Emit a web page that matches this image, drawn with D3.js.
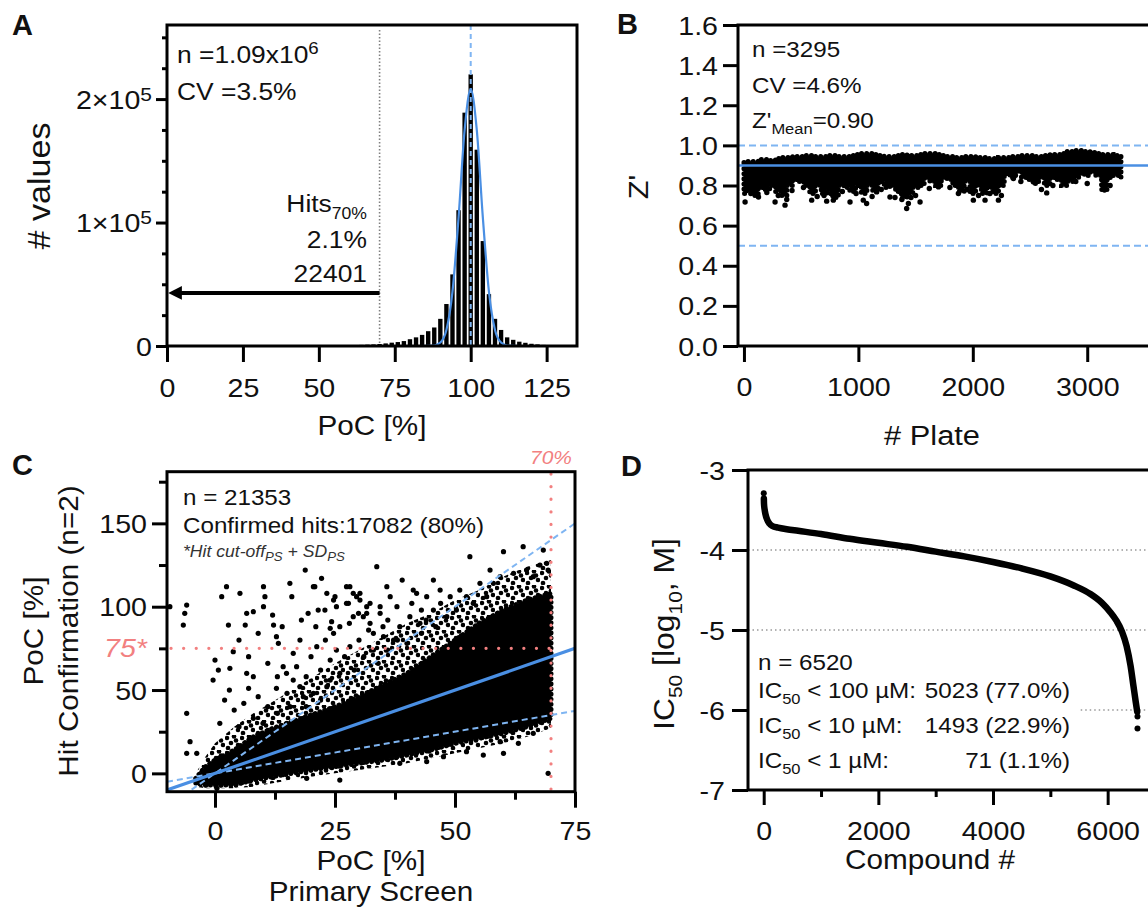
<!DOCTYPE html>
<html>
<head>
<meta charset="utf-8">
<script src="https://cdn.jsdelivr.net/npm/d3@7"></script>
<style>
body{margin:0;background:#fff}
svg text{font-family:"Liberation Sans",Arial,Helvetica,sans-serif;fill:#111}
</style>
</head>
<body>
<svg id="fig" width="1148" height="913"></svg>
<script>
// ---------- A : PoC histogram ----------
var histBin = [64,66,68,70,72,74,76,78,80,82,84,86,88,90,92,94,96,98,100,102,104,106,108,110,112,114,116,118,120,122,124,126,128];
var histCount = [900,1100,1300,1600,2100,2700,3200,4000,5500,7000,9000,12000,15000,22000,34000,58000,110000,189000,220000,159000,85000,42000,22000,13000,7000,5000,3500,2600,1800,1300,900,600,400];
var fitX = [0,84,88,90,92,94,96,98,100,102,104,106,108,110,112,116,135];
var fitY = [0,0,400,2800,13000,44000,104000,175000,208000,175000,104000,44000,13000,2800,400,0,0];
var aXTicks = [0,25,50,75,100,125];
var aYTicks = [0,100000,200000];
var aYMinor = [25000,50000,75000,125000,150000,175000,225000,250000];
var aCutoff = 70, aMean = 100, aArrowAt = 43000;

// ---------- B : Z' per plate ----------
var bX  = [0,50,100,150,200,250,300,350,400,450,500,550,600,650,700,750,800,850,900,950,1000,1050,1100,1150,1200,1250,1300,1350,1400,1450,1500,1550,1600,1650,1700,1750,1800,1850,1900,1950,2000,2050,2100,2150,2200,2250,2300,2350,2400,2450,2500,2550,2600,2650,2700,2750,2800,2850,2900,2950,3000,3050,3100,3150,3200,3250,3295];
var bHi = [.915,.92,.92,.93,.93,.925,.935,.94,.94,.945,.945,.95,.95,.945,.945,.95,.95,.945,.945,.95,.955,.96,.96,.955,.95,.945,.945,.95,.955,.95,.95,.955,.96,.96,.955,.95,.945,.94,.94,.945,.945,.94,.94,.935,.935,.94,.94,.945,.945,.95,.95,.945,.945,.95,.955,.955,.96,.97,.975,.975,.97,.965,.96,.955,.955,.95,.95];
var bLo = [.76,.78,.75,.79,.78,.80,.77,.75,.80,.83,.82,.80,.76,.80,.76,.78,.74,.80,.79,.77,.80,.76,.80,.77,.82,.79,.80,.77,.74,.76,.79,.80,.84,.82,.80,.84,.83,.80,.77,.82,.76,.80,.76,.79,.76,.80,.86,.84,.87,.84,.83,.81,.84,.80,.84,.83,.80,.82,.84,.86,.85,.87,.85,.78,.84,.85,.84];
var bOut = [[10,.718],[127,.743],[272,.718],[359,.702],[374,.73],[592,.727],[723,.722],[781,.727],[927,.718],[1043,.727],[1072,.71],[1160,.768],[1276,.743],[1320,.74],[1422,.685],[1437,.71],[1539,.718],[1700,.793],[1874,.76],[2005,.727],[2107,.727],[2224,.727],[2355,.835],[2530,.818],[2646,.763],[3151,.777],[3151,.79],
  [60,.76],[200,.765],[300,.75],[420,.775],[520,.79],[640,.745],[700,.75],[760,.76],[860,.77],[980,.76],[1120,.745],[1200,.78],[1380,.73],[1460,.74],[1500,.75],[1620,.785],[1800,.79],[1950,.78],[2050,.75],[2150,.76],[2250,.75],[2420,.82],[2600,.78],[2700,.80],[2900,.82],[3000,.81],[3200,.80]];
var bXTicks = [0,1000,2000,3000];
var bYTicks = [0,0.2,0.4,0.6,0.8,1.0,1.2,1.4,1.6];
var bRefs = [1.0, 0.5], bMean = 0.90;

// ---------- C : primary screen vs hit confirmation ----------
var cX     = [-4,-2,0,4,8,12,16,20,25,30,35,40,45,50,55,60,65,70];
var cUpper = [-3,4,8,14,22,27,31,35,40,46,53,60,70,80,90,98,104,108];
var cLower = [-6,-7,-7,-7,-4,-2,0,2,4,6,8,11,14,18,21,24,28,33];
var fUpper = [0,10,18,28,36,43,50,57,66,74,82,90,96,104,110,118,124,128];
var fLower = [-8,-9,-9,-9,-8,-6,-4,-2,0,2,4,6,9,12,15,18,22,27];
var cOut = [[-9.4,100],[-6.3,96],[-5.9,101],[-6.6,89],[-5.9,36],[-5.2,19],[-5.9,12],[-3.8,12],
  [0,68],[-0.4,56],[0.7,62],[2.4,112],[1.4,106],[2.8,89],[3.8,73],[3.1,63],
  [5.2,108],[6.6,96],[6.3,89],[8,97],[7,51],[6.6,60],[10.1,112],[10.4,106],[10.1,100],
  [12.2,89],[12.8,82],[13.2,78],[12.8,51],[14.2,64],[14.9,60],[15.6,114],[16,106],
  [18.8,122],[19.4,96],[20.5,112],[22.2,117],[21.5,98],[22.9,98],[23.3,108],[24,87],[24.3,91],
  [25,106],[25.3,100],[27.4,112],[28.1,112],[28.8,108],[29.5,106],[27.8,102],[29.9,96],[30.2,104],
  [30.9,94],[31.6,100],[32.3,102],[33,84],[33.7,124],[34.4,100],[35.8,112],[36.5,106],[37.9,100],
  [16.3,56],[17.7,52],[18.4,46],[20.5,48],[16.3,72],[17.7,80],[15.6,40],[21.2,76],[24,68],[25.3,74],
  [28.1,76],[24.7,84],[23.3,52],[35,88],[37.2,80],
  [0.4,-9],[26,-4],[44.1,7],[55.9,11],[60.1,12],[63.2,18],[69.4,0],[38.5,6],[47.6,10],[52.4,13],[59.4,19],[66.3,24],[19.1,-3],
  [53.1,130],[60.1,133],[64.2,136],[68.4,134],[67.7,125],[69.1,126],[69.4,122],[57.3,122],[59.4,118],[62.2,120],[64.9,122],[66.3,118],
  [45.5,116],[41.3,110],[42,108],[44.1,106],[46.9,110],[49,106],[51,110],[52.4,106],[53.8,102],[30.2,108],[27.4,102],[31.6,96],[34.4,96],
  [24.7,104],[28.8,94],[32.3,90],[35.1,82],[38.5,88],[40.6,94],[42.7,90],[45.5,98],[48.3,94],[50.3,98],[55.2,114],[56.6,106],[58,114],[39,116],[43,98],[47,102],[20.8,112],
  [1,30],[2,44],[3,50],[4,38],[5,28],[5,80],[6,42],[7,70],[8,33],[8,58],[9,46],[9,84],[10,30],[11,66],[11,40],[12,95],[13,36],[13,58],[14,88],[15,48],
  [16,30],[17,64],[18,92],[19,40],[19,58],[20,70],[21,88],[22,44],[22,62],[23,80],[24,56],[26,88],[26,60],[27,70],[28,90],[29,62],[30,80],[31,70],
  [32,86],[33,74],[34,66],[36,92],[36,74],[38,80],[40,78],[41,102],[43,84],[44,92],[46,88]];
var cFitSlope = 1, cBandSlopes = [2, 0.5];
var cCutX = 70, cCutY = 75;
var cXTicks = [0,25,50,75], cXMinor = [12.5,37.5,62.5];
var cYTicks = [0,50,100,150], cYMinor = [25,75,125,175];

// ---------- D : sorted IC50 ----------
var dRank = [3,5,15,30,60,100,150,250,400,600,1000,1500,2000,2500,3000,3500,4000,4500,5000,5400,5700,5900,6050,6150,6250,6330,6400,6450,6490,6515];
var dLog  = [-3.36,-3.42,-3.49,-3.55,-3.62,-3.67,-3.70,-3.72,-3.74,-3.76,-3.80,-3.86,-3.91,-3.96,-4.02,-4.08,-4.15,-4.23,-4.33,-4.44,-4.55,-4.66,-4.78,-4.88,-5.02,-5.20,-5.45,-5.70,-5.90,-6.02];
var dDots = [[1,-3.29],[6520,-6.08],[6520,-6.23]];
var dGuides = [-4,-5,-6], dGuideFrom = [-274,-274,5530];
var dXTicks = [0,2000,4000,6000], dXMinor = [1000,3000,5000];
var dYTicks = [-7,-6,-5,-4,-3];
var dRows = [["100","5023 (77.0%)"],["10","1493 (22.9%)"],["1","71 (1.1%)"]];

var BLUE = "#4a8fe3", BLUE_L = "#7fb5f2", RED = "#f28080", GRAY = "#808080";

var svg = d3.select("#fig");
var defs = svg.append("defs");

function clipRect(id, x0, y0, x1, y1) {
  defs.append("clipPath").attr("id", id).append("rect")
    .attr("x", x0).attr("y", y0).attr("width", x1 - x0).attr("height", y1 - y0);
}

function frame(g, x0, y0, x1, y1) {
  g.append("rect").attr("x", x0).attr("y", y0).attr("width", x1 - x0).attr("height", y1 - y0)
    .attr("fill", "none").attr("stroke", "#000").attr("stroke-width", 3);
}

function ticks(g, orient, scale, at, values, len, fmt, gap, size) {
  var axis = (orient === "left" ? d3.axisLeft(scale) : d3.axisBottom(scale))
    .tickValues(values).tickSize(len).tickSizeOuter(0)
    .tickFormat(fmt || function () { return ""; });
  var sel = g.append("g")
    .attr("transform", orient === "left" ? "translate(" + at + ",0)" : "translate(0," + at + ")")
    .call(axis);
  sel.select(".domain").remove();
  sel.selectAll(".tick line").attr("stroke", "#000").attr("stroke-width", 3);
  sel.selectAll(".tick text")
    .attr("x", null).attr("y", null)
    .attr("dy", orient === "left" ? "0.35em" : null)
    .attr("font-size", size || 26)
    .attr("transform", orient === "left"
      ? "translate(" + (-gap) + ",0) scale(1.1,1)"
      : "translate(0," + gap + ") scale(1.1,1)");
  return sel;
}

// text with optional sub/superscripts, slightly widened like the original
function rich(g, x, y, parts, o) {
  o = o || {};
  var fs = o.size || 22;
  var t = g.append("text")
    .attr("transform", "translate(" + x + "," + y + ")" + (o.rotate ? " rotate(" + o.rotate + ")" : "") + " scale(" + (o.sx || 1.1) + ",1)")
    .attr("font-size", fs).attr("text-anchor", o.anchor || "start");
  if (o.color) t.style("fill", o.color);
  if (o.italic) t.attr("font-style", "italic");
  if (o.bold) t.attr("font-weight", "bold");
  if (typeof parts === "string") parts = [[parts]];
  var cur = 0;
  parts.forEach(function (p) {
    var off = p[1] === "sup" ? -(o.supShift || fs * 0.35) : p[1] === "sub" ? fs * 0.28 : 0;
    var ts = t.append("tspan").attr("dy", off - cur).text(p[0]);
    if (p[1]) ts.attr("font-size", o.small || Math.round(fs * 0.68));
    cur = off;
  });
  return t;
}

function hline(g, x0, x1, y, color, w, dash, cap) {
  return g.append("line").attr("x1", x0).attr("x2", x1).attr("y1", y).attr("y2", y)
    .attr("stroke", color).attr("stroke-width", w).attr("stroke-dasharray", dash || null)
    .attr("stroke-linecap", cap || "butt");
}
function vline(g, x, y0, y1, color, w, dash, cap) {
  return g.append("line").attr("x1", x).attr("x2", x).attr("y1", y0).attr("y2", y1)
    .attr("stroke", color).attr("stroke-width", w).attr("stroke-dasharray", dash || null)
    .attr("stroke-linecap", cap || "butt");
}

defs.append("marker").attr("id", "arr").attr("viewBox", "0 0 10 10")
  .attr("refX", 2).attr("refY", 5).attr("markerWidth", 3.6).attr("markerHeight", 3.4)
  .attr("orient", "auto-start-reverse")
  .append("path").attr("d", "M0,0 L10,5 L0,10 z").attr("fill", "#000");

var speck = defs.append("pattern").attr("id", "speck").attr("patternUnits", "userSpaceOnUse")
  .attr("width", 15).attr("height", 15);
speck.selectAll("circle").data([[2,3],[9,1.5],[6,8],[13,10],[3,13],[11,5.5]]).enter().append("circle")
  .attr("cx", function (d) { return d[0]; }).attr("cy", function (d) { return d[1]; })
  .attr("r", 2.3).attr("fill", "#000");

// ================= Panel A =================
var gA = svg.append("g");
var ax = d3.scaleLinear().domain([0, 135]).range([167, 577]);
var ay = d3.scaleLinear().domain([0, 260000]).range([346, 25]);
var binW = 2;

gA.selectAll("rect.bar").data(histBin).enter().append("rect")
  .attr("x", function (d) { return ax(d - binW * 0.36); })
  .attr("width", ax(binW * 0.72) - ax(0))
  .attr("y", function (d, i) { return ay(histCount[i]); })
  .attr("height", function (d, i) { return ay(0) - ay(histCount[i]); })
  .attr("fill", "#000");

vline(gA, ax(aMean), ay(260000), ay(0), BLUE_L, 2, "5,4");
vline(gA, ax(aCutoff), 30, ay(0), GRAY, 1.6, "1.5,2");

gA.append("path")
  .datum(fitX.map(function (x, i) { return [x, fitY[i]]; }))
  .attr("d", d3.line().x(function (d) { return ax(d[0]); }).y(function (d) { return ay(d[1]); }).curve(d3.curveMonotoneX))
  .attr("fill", "none").attr("stroke", BLUE).attr("stroke-width", 2.2);

gA.append("line").attr("x1", ax(aCutoff)).attr("x2", ax(4)).attr("y1", ay(aArrowAt)).attr("y2", ay(aArrowAt))
  .attr("stroke", "#000").attr("stroke-width", 4).attr("marker-end", "url(#arr)");

frame(gA, 167, 25, 577, 346);
ticks(gA, "bottom", ax, 346, aXTicks, 16, function (d) { return d; }, 51);
ticks(gA, "left", ay, 167, aYMinor, 5);
var aYAx = ticks(gA, "left", ay, 167, aYTicks, 11, function (d) { return d === 0 ? "0" : (d / 100000) + "×10"; }, 15);
aYAx.selectAll(".tick text").filter(function (d) { return d > 0; })
  .append("tspan").attr("dy", -8).attr("font-size", 19).text("5");

rich(gA, 177, 63, [["n =1.09x10"], ["6", "sup"]], { size: 24, small: 17, supShift: 9 });
rich(gA, 177, 100, "CV =3.5%", { size: 24 });
rich(gA, 367, 212, [["Hits"], ["70%", "sub"]], { size: 24, small: 16, anchor: "end" });
rich(gA, 367, 248, "2.1%", { size: 24, anchor: "end" });
rich(gA, 367, 282, "22401", { size: 24, anchor: "end" });
rich(gA, 372, 435, "PoC [%]", { size: 27, anchor: "middle" });
rich(gA, 50, 186, "# values", { size: 31, anchor: "middle", rotate: -90 });
rich(gA, 12, 35, "A", { size: 29, bold: true, sx: 1 });

// ================= Panel B =================
var gB = svg.append("g");
clipRect("clipB", 738, 25, 1160, 346);
var bx = d3.scaleLinear().domain([-52, 3636]).range([738, 1160]);
var by = d3.scaleLinear().domain([0, 1.6]).range([346, 25]);
var gBd = gB.append("g").attr("clip-path", "url(#clipB)");

bRefs.forEach(function (v) { hline(gBd, 738, 1160, by(v), BLUE_L, 2, "7,4"); });

var bBand = d3.area().curve(d3.curveStep)
  .x(function (d, i) { return bx(bX[i]); })
  .y0(function (d, i) { return by(bLo[i]); })
  .y1(function (d, i) { return by(bHi[i]); });
gBd.append("path").datum(bX).attr("d", bBand)
  .attr("fill", "#000").attr("stroke", "#000").attr("stroke-width", 5)
  .attr("stroke-dasharray", "0.1,5").attr("stroke-linecap", "round");
gBd.selectAll("circle.out").data(bOut).enter().append("circle")
  .attr("cx", function (d) { return bx(d[0]); }).attr("cy", function (d) { return by(d[1]); })
  .attr("r", 2.7).attr("fill", "#000");
hline(gBd, 738, 1160, by(bMean), BLUE, 2.6);

frame(gB, 738, 25, 1160, 346);
ticks(gB, "left", by, 738, bYTicks, 15, d3.format(".1f"), 20);
ticks(gB, "bottom", bx, 346, bXTicks, 16, function (d) { return d; }, 50);

rich(gB, 752, 57, "n =3295", { size: 22 });
rich(gB, 752, 93, "CV =4.6%", { size: 22 });
rich(gB, 752, 128, [["Z'"], ["Mean", "sub"], ["=0.90"]], { size: 22, small: 15 });
rich(gB, 932, 445, "# Plate", { size: 28, anchor: "middle" });
rich(gB, 648, 187, "Z'", { size: 28, anchor: "middle", rotate: -90 });
rich(gB, 617, 34, "B", { size: 29, bold: true, sx: 1 });

// ================= Panel C =================
var gC = svg.append("g");
clipRect("clipC", 167, 471.7, 575, 791.7);
var cx = d3.scaleLinear().domain([-10, 75]).range([167, 575]);
var cy = d3.scaleLinear().domain([-11, 181]).range([791.7, 471.7]);
var gCd = gC.append("g").attr("clip-path", "url(#clipC)");

function cArea(lo, hi) {
  return d3.area().curve(d3.curveLinear)
    .x(function (d, i) { return cx(cX[i]); })
    .y0(function (d, i) { return cy(lo[i]); })
    .y1(function (d, i) { return cy(hi[i]); });
}
gCd.append("path").datum(cX).attr("d", cArea(cUpper, fUpper)).attr("fill", "url(#speck)");
gCd.append("path").datum(cX).attr("d", cArea(fLower, cLower)).attr("fill", "url(#speck)");
gCd.append("path").datum(cX).attr("d", cArea(cLower, cUpper))
  .attr("fill", "#000").attr("stroke", "#000").attr("stroke-width", 5)
  .attr("stroke-dasharray", "0.1,5").attr("stroke-linecap", "round");
gCd.selectAll("circle.out").data(cOut).enter().append("circle")
  .attr("cx", function (d) { return cx(d[0]); }).attr("cy", function (d) { return cy(d[1]); })
  .attr("r", 2.6).attr("fill", "#000");

cBandSlopes.forEach(function (s) {
  gCd.append("line").attr("x1", cx(-10)).attr("y1", cy(-10 * s)).attr("x2", cx(75)).attr("y2", cy(75 * s))
    .attr("stroke", BLUE_L).attr("stroke-width", 2).attr("stroke-dasharray", "6,4");
});
gCd.append("line").attr("x1", cx(-10)).attr("y1", cy(-10 * cFitSlope)).attr("x2", cx(75)).attr("y2", cy(75 * cFitSlope))
  .attr("stroke", BLUE).attr("stroke-width", 3.2);

vline(gC, cx(cCutX), 474, 790, RED, 3.2, "0.1,12.5", "round");
hline(gC, cx(-10) + 4, cx(cCutX), cy(cCutY), RED, 3.2, "0.1,12.5", "round");

frame(gC, 167, 471.7, 575, 791.7);
ticks(gC, "left", cy, 167, cYMinor, 8);
ticks(gC, "left", cy, 167, cYTicks, 15, function (d) { return d; }, 20);
ticks(gC, "bottom", cx, 791.7, cXMinor, 8);
ticks(gC, "bottom", cx, 791.7, cXTicks, 16, function (d) { return d; }, 48);

rich(gC, 147, cy(cCutY) + 9, "75*", { size: 26, anchor: "end", italic: true, color: RED });
rich(gC, cx(cCutX), 464, "70%", { size: 19, anchor: "middle", italic: true, color: RED });
rich(gC, 183, 505, "n = 21353", { size: 22 });
rich(gC, 183, 533, "Confirmed hits:17082 (80%)", { size: 22 });
rich(gC, 183, 557, [["*Hit cut-off"], ["PS", "sub"], [" + SD"], ["PS", "sub"]], { size: 16, small: 12, italic: true, color: "#333" });
rich(gC, 371, 870, "PoC [%]", { size: 27, anchor: "middle" });
rich(gC, 371, 901, "Primary Screen", { size: 27, anchor: "middle" });
rich(gC, 43, 631, "PoC [%]", { size: 27, anchor: "middle", rotate: -90 });
rich(gC, 78, 631, "Hit Confirmation (n=2)", { size: 27, anchor: "middle", rotate: -90 });
rich(gC, 12, 475, "C", { size: 29, bold: true, sx: 1 });

// ================= Panel D =================
var gD = svg.append("g");
clipRect("clipD", 748, 470, 1160, 790);
var dx = d3.scaleLinear().domain([-274, 6913]).range([748, 1160]);
var dy = d3.scaleLinear().domain([-7, -3]).range([790, 470]);
var gDd = gD.append("g").attr("clip-path", "url(#clipD)");

dGuides.forEach(function (v, i) { hline(gDd, dx(dGuideFrom[i]), 1160, dy(v), "#999", 1.5, "1.5,3"); });

gDd.append("path")
  .datum(dRank.map(function (r, i) { return [r, dLog[i]]; }))
  .attr("d", d3.line().x(function (d) { return dx(d[0]); }).y(function (d) { return dy(d[1]); }).curve(d3.curveMonotoneX))
  .attr("fill", "none").attr("stroke", "#000").attr("stroke-width", 6.5).attr("stroke-linecap", "round");
gDd.selectAll("circle.dot").data(dDots).enter().append("circle")
  .attr("cx", function (d) { return dx(d[0]); }).attr("cy", function (d) { return dy(d[1]); })
  .attr("r", 3).attr("fill", "#000");

frame(gD, 748, 470, 1160, 790);
ticks(gD, "left", dy, 748, dYTicks, 16, function (d) { return String(d); }, 23);
ticks(gD, "bottom", dx, 790, dXMinor, 7);
ticks(gD, "bottom", dx, 790, dXTicks, 15, function (d) { return d; }, 50);

rich(gD, 758, 670, "n = 6520", { size: 22 });
dRows.forEach(function (r, i) {
  var yy = 698 + i * 35;
  rich(gD, 758, yy, [["IC"], ["50", "sub"], [" < " + r[0] + " µM:"]], { size: 22, small: 15 });
  rich(gD, 1070, yy, r[1], { size: 22, anchor: "end" });
});
rich(gD, 930, 869, "Compound #", { size: 27, anchor: "middle" });
rich(gD, 674, 634, [["IC"], ["50", "sub"], [" [log"], ["10", "sub"], [", M]"]], { size: 29, small: 19, anchor: "middle", rotate: -90 });
rich(gD, 621, 476, "D", { size: 29, bold: true, sx: 1 });
</script>
</body>
</html>
